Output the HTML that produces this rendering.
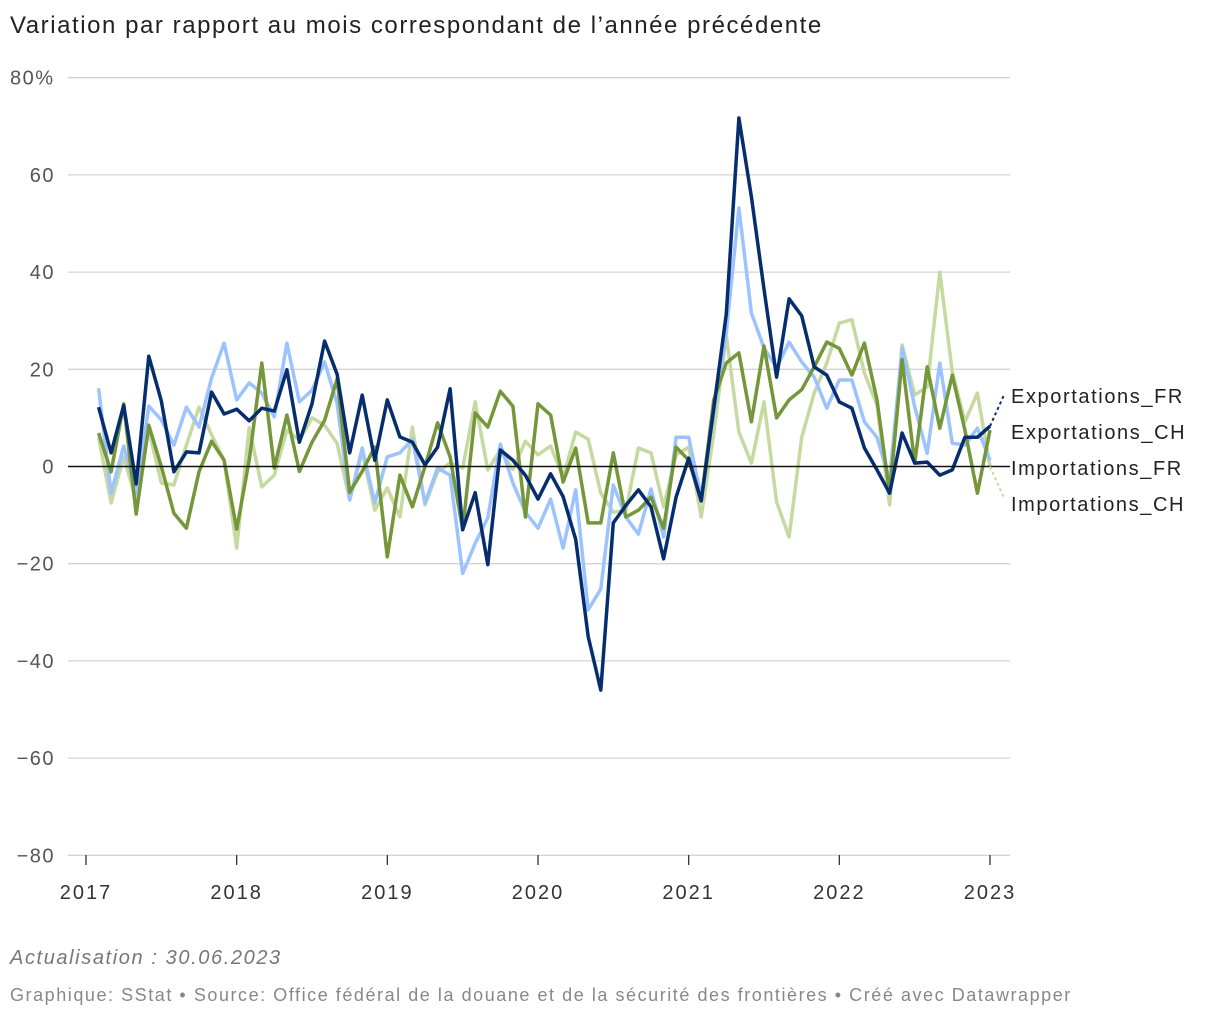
<!DOCTYPE html>
<html><head><meta charset="utf-8"><style>
body{margin:0;background:#fff;font-family:"Liberation Sans",sans-serif;}
#wrap{position:relative;width:1220px;height:1020px;overflow:hidden;}
.title{position:absolute;left:10px;top:12px;font-size:24px;color:#222;letter-spacing:1.55px;}
.upd{position:absolute;left:10px;top:947px;font-size:20px;font-style:italic;color:#777;letter-spacing:1.6px;}
.src{position:absolute;left:10px;top:985px;font-size:18px;color:#888;letter-spacing:1.55px;}
svg text{font-family:"Liberation Sans",sans-serif;}
</style></head><body>
<div id="wrap">
<div class="title">Variation par rapport au mois correspondant de l’année précédente</div>
<svg id="chart" width="1220" height="1020" style="position:absolute;left:0;top:0"></svg>
<div class="upd">Actualisation : 30.06.2023</div>
<div class="src">Graphique: SStat • Source: Office fédéral de la douane et de la sécurité des frontières • Créé avec Datawrapper</div>
</div>
<script>
const yTicks=[80,60,40,20,0,-20,-40,-60,-80];
const yTickLabels=["80%","60","40","20","0","−20","−40","−60","−80"];
const xYears=[2017,2018,2019,2020,2021,2022,2023];
const startYear=2017, startMonth=1; // first point = Feb 2017
const exportFR=[12.2,2.8,12.6,-3.6,22.7,13.5,-1.1,3,2.8,15.3,10.8,11.8,9.4,12,11.4,19.9,5,12.9,25.8,19,2.8,14.7,1.3,13.7,6.1,5,0.3,4,16,-13,-5.4,-20.2,3.4,1.3,-1.8,-6.7,-1.5,-6.2,-15,-35,-46,-11.6,-8,-4.8,-8.3,-19,-6.3,1.7,-7.1,12,31.4,71.7,55.5,36.5,18.4,34.5,31,20.5,18.8,13.3,12,3.8,-0.7,-5.5,6.9,0.7,0.9,-1.8,-0.7,6,6,8.3];
const exportCH=[6.9,-1.1,12.9,-9.8,8.5,0,-9.6,-12.7,-1.1,5.2,1.3,-12.9,1.3,21.3,-0.3,10.6,-1,5,9.5,18,-5.3,-1,4,-18.6,-1.8,-8.3,0,9,2,-13,11,8.1,15.5,12.4,-10.4,12.9,10.6,-3.2,3.8,-11.6,-11.6,2.8,-10.4,-9,-6.3,-12.7,4,1.3,-7,13.7,21.3,23.4,9.2,24.8,10,13.7,15.8,20.5,25.6,24.3,18.8,25.4,13.7,-5.5,22,0.7,20.5,7.9,18.8,7.5,-5.5,7.5];
const importFR=[16.1,-5.5,4.2,-5.5,12.4,9.6,4.4,12.2,8.1,18.2,25.4,13.7,17.2,15.1,10.2,25.4,13.3,15.7,21.5,13,-6.9,3.8,-7.5,2,2.8,5.6,-7.5,-0.3,-1.8,-22,-15.8,-10.6,4.6,-3.4,-9.4,-12.7,-6.7,-16.8,-4.8,-29.5,-25.2,-3.8,-10.4,-13.9,-4.6,-14.5,6,6,-6.3,11,27.5,53.2,31.6,24.4,20.3,25.6,21.5,18.4,12,17.8,17.8,9.2,6,-2.8,24.4,12.3,2.7,21.3,4.8,4.4,7.9,1.3];
const importCH=[6,-7.5,2,-7,7.5,-3.4,-3.8,4.4,12.2,6.5,1.3,-16.8,8,-4.2,-1.8,7.5,5.4,10,8.5,4.8,-6.9,3,-9,-4.4,-10.4,8.1,-7.9,-1.1,0.7,-0.3,13.3,-0.7,3.4,-0.6,5.2,2.4,4.2,-2.2,7.1,5.6,-5.5,-9.4,-9,3.8,2.8,-8.3,2.4,4,-10.4,6.9,27,7.1,0.7,13.3,-7.3,-14.5,6,15.1,21.3,29.5,30.2,19.2,12.7,-7.9,25,14.7,16.4,40,19.4,9.2,15.1,0];
const seriesNames=["Exportations_FR","Exportations_CH","Importations_FR","Importations_CH"];

const NS="http://www.w3.org/2000/svg";
const svg=document.getElementById('chart');
const X0=86, X1=990, Y0=466.5, YS=4.86;
function xScale(t){return X0+(t-2017)*(X1-X0)/6;}
function yScale(v){return Y0-v*YS;}
function tOf(i){return startYear+(startMonth+i)/12;}
function mk(tag,attrs){const e=document.createElementNS(NS,tag);for(const k in attrs)e.setAttribute(k,attrs[k]);svg.appendChild(e);return e;}

yTicks.forEach((v,k)=>{
  const y=yScale(v);
  if(v!==0){const g=mk('line',{x1:68,x2:1010,y1:y,y2:y,stroke:'#d4d4d4','stroke-width':1.3});
  
  }
  const t=mk('text',{x:55,y:y+7,'text-anchor':'end','font-size':20,fill:'#555','letter-spacing':'1.5'});
  t.textContent=yTickLabels[k];
  if(k===0){t.setAttribute('x',10);t.setAttribute('text-anchor','start');}
  
  
});
xYears.forEach(yr=>{
  const x=xScale(yr);
  const l=mk('line',{x1:x,x2:x,y1:855,y2:865,stroke:'#333','stroke-width':1.3});
  
  
  const t=mk('text',{x:x,y:899,'text-anchor':'middle','font-size':20,fill:'#333','letter-spacing':'2'});
  t.textContent=yr;
  
  
});
const series=[[importCH,'#c5d9a0'],[importFR,'#9cc3ff'],[exportCH,'#76963a'],[exportFR,'#062d6e']];
series.forEach(([arr,col],k)=>{
  const d=arr.map((v,i)=>(i?'L':'M')+xScale(tOf(i)).toFixed(1)+','+yScale(v).toFixed(1)).join('');
  const p=mk('path',{d:d,fill:'none',stroke:col,'stroke-width':3.5,'stroke-linejoin':'round'});
  
  
});
const zl=mk('line',{x1:68,x2:1010,y1:Y0,y2:Y0,stroke:'#111','stroke-width':1.5});


const lastX=xScale(tOf(exportFR.length-1));
const c1=mk('line',{x1:lastX,y1:yScale(exportFR[exportFR.length-1]),x2:1004,y2:395,stroke:'#062d6e','stroke-width':2,'stroke-dasharray':'3,3'});


const c2=mk('line',{x1:lastX,y1:yScale(importCH[importCH.length-1]),x2:1004,y2:498,stroke:'#c5d9a0','stroke-width':2,'stroke-dasharray':'3,3'});


const labY=[396,432,468,504];
seriesNames.forEach((n,k)=>{
  const t=mk('text',{x:1011,y:labY[k]+7,'font-size':20,fill:'#222','letter-spacing':'1.6'});
  t.textContent=n;
  
  
});
</script>
</body></html>
